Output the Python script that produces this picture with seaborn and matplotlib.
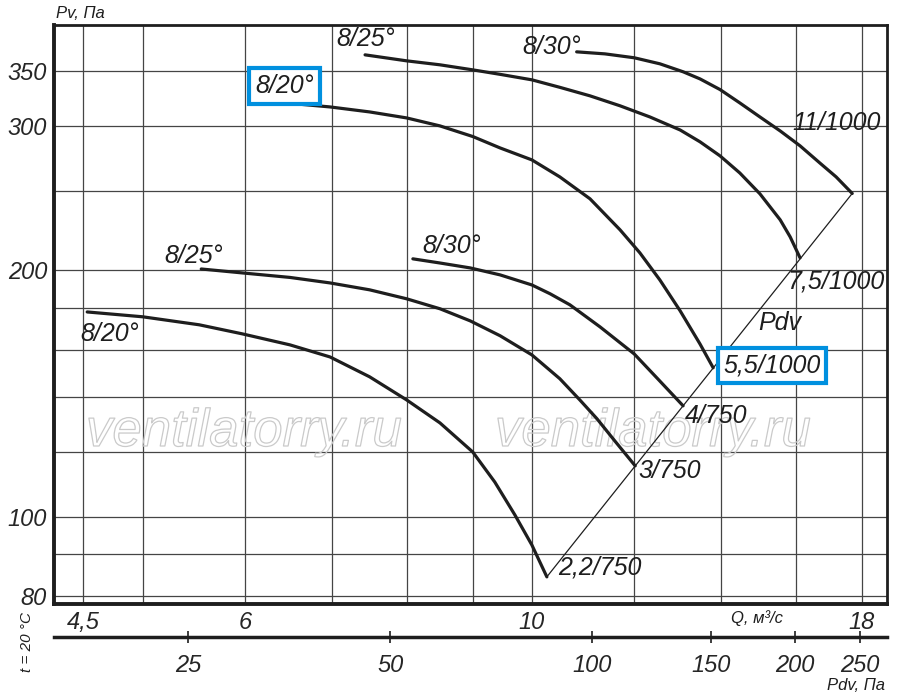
import matplotlib
matplotlib.use('Agg')
import matplotlib.pyplot as plt
import matplotlib.patheffects as pe
import seaborn as sns

# air flow Q (m3/s) and static pressure Pv (Pa)
q_lo_20 = [4.53, 5.0, 5.53, 5.97, 6.50, 6.98, 7.49, 8.0, 8.49, 9.0, 9.36, 9.70, 10.0, 10.27]
p_lo_20 = [177.8, 175.4, 171.5, 167.2, 162.1, 156.7, 148.2, 138.9, 130.2, 120.0, 110.3, 100.6, 92.4, 84.5]

q_lo_25 = [5.55, 5.97, 6.50, 6.98, 7.49, 8.0, 8.49, 8.96, 9.45, 10.0, 10.51, 10.89, 11.23, 11.59, 12.02]
p_lo_25 = [200.6, 198.4, 195.9, 192.9, 189.2, 184.5, 179.4, 173.4, 166.3, 157.6, 147.4, 138.9, 131.7, 123.8, 115.4]

q_lo_30 = [8.09, 8.49, 8.96, 9.45, 10.0, 10.33, 10.70, 11.29, 12.0, 12.51, 13.09]
p_lo_30 = [206.4, 204.0, 201.2, 197.3, 191.8, 187.1, 181.4, 170.5, 158.0, 147.4, 136.6]

q_hi_20 = [6.08, 6.50, 6.98, 7.49, 8.0, 8.49, 9.0, 9.45, 10.0, 10.51, 11.09, 11.70, 12.12, 12.56, 13.02, 13.49, 13.81]
p_hi_20 = [321.7, 319.4, 316.2, 311.8, 306.6, 299.8, 291.0, 281.8, 272.5, 259.8, 244.3, 223.9, 209.9, 194.5, 178.4, 162.5, 152.0]

q_hi_25 = [7.43, 8.0, 8.49, 9.0, 9.45, 10.0, 10.51, 11.09, 11.70, 12.34, 13.02, 13.49, 13.98, 14.48, 15.01, 15.56, 15.84, 16.12]
p_hi_25 = [366.0, 359.9, 355.9, 350.9, 346.5, 341.2, 334.1, 326.2, 317.2, 307.4, 296.4, 286.7, 275.6, 262.7, 247.7, 230.3, 219.5, 207.0]

q_hi_30 = [10.83, 11.39, 12.0, 12.56, 13.09, 13.49, 13.98, 14.48, 15.01, 15.56, 16.12, 16.71, 17.19, 17.69]
p_hi_30 = [369.1, 367.0, 363.0, 356.9, 349.0, 342.1, 332.0, 319.8, 307.4, 295.6, 283.5, 269.9, 259.8, 248.0]

angle_labels = ['8/20°', '8/25°', '8/30°', '8/20°', '8/25°', '8/30°']
motor_labels = ['2,2/750', '3/750', '4/750', '5,5/1000', '7,5/1000', '11/1000']

q_grid = [4.5, 5, 6, 7, 8, 9, 10, 12, 14, 16, 18]
q_tick_labels = ['4,5', '', '6', '', '', '', '10', '', '', '', '18']
p_grid = [80, 90, 100, 120, 140, 160, 180, 200, 250, 300, 350]
p_tick_labels = ['80', '', '100', '', '', '', '', '200', '', '300', '350']
pdv_ticks = [25, 50, 100, 150, 200, 250]

curves = [(q_lo_20, p_lo_20), (q_lo_25, p_lo_25), (q_lo_30, p_lo_30),
          (q_hi_20, p_hi_20), (q_hi_25, p_hi_25), (q_hi_30, p_hi_30)]

# label offsets in pixels from curve start / end
start_off = [(22, -22), (-8, 13), (39, 13), (32, 15), (1, 16), (-25, 5)]
end_off = [(11, 9), (3, -5), (2, -10), (10, 2), (-13, -24), (-60, 70)]
boxed_start = [False, False, False, True, False, False]
boxed_end = [False, False, False, True, False, False]

ink = '#1e1e1e'
blue = '#0090df'

sns.set_style('white')
plt.rcParams['font.family'] = ['Liberation Sans', 'DejaVu Sans']
plt.rcParams['font.style'] = 'italic'
plt.rcParams['text.color'] = ink

W, H = 900, 696
fig = plt.figure(figsize=(9, 6.96), dpi=100)
ax = fig.add_axes([54 / W, 1 - 604 / H, 833 / W, 579 / H])
ax.set_xscale('log')
ax.set_yscale('log')

for (q, p) in curves:
    sns.lineplot(x=q, y=p, ax=ax, color=ink, lw=2.3, sort=False,
                 estimator=None, zorder=3)

# Pdv line through the curve ends
sns.lineplot(x=[q_lo_20[-1], q_hi_30[-1]], y=[p_lo_20[-1], p_hi_30[-1]],
             ax=ax, color=ink, lw=0.9, sort=False, estimator=None, zorder=3)

for i, (q, p) in enumerate(curves):
    bb = None
    if boxed_start[i]:
        bb = dict(boxstyle='square,pad=0.24', fc='white', ec=blue, lw=3)
    ax.annotate(angle_labels[i], (q[0], p[0]), xytext=start_off[i],
                textcoords='offset pixels', ha='center', va='center',
                fontsize=18, bbox=bb, zorder=4)
    bb = None
    if boxed_end[i]:
        bb = dict(boxstyle='square,pad=0.22', fc='white', ec=blue, lw=3)
    ax.annotate(motor_labels[i], (q[-1], p[-1]), xytext=end_off[i],
                textcoords='offset pixels', ha='left', va='center',
                fontsize=18, bbox=bb, zorder=4)

ax.set_xlim(4.27, 18.82)
ax.set_ylim(78.3, 398)
ax.set_xticks(q_grid, labels=q_tick_labels)
ax.set_yticks(p_grid, labels=p_tick_labels)
ax.minorticks_off()
ax.tick_params(length=0, labelsize=17, pad=5)
ax.grid(True, color='#454545', lw=0.9)
ax.set_axisbelow(True)
for s in ['left', 'bottom']:
    ax.spines[s].set_linewidth(2.8)
for s in ['top', 'right']:
    ax.spines[s].set_linewidth(2.0)
for s in ax.spines.values():
    s.set_color(ink)

# watermark
for cx in [244, 653]:
    ax.text(cx / W, 1 - 432 / H, 'ventilatorry.ru', transform=fig.transFigure,
            ha='center', va='center', fontsize=38, color=(1, 1, 1, 0),
            zorder=1,
            path_effects=[pe.Stroke(linewidth=0.9, foreground='#cacaca'),
                          pe.Normal()])

# dynamic pressure scale
ax2 = fig.add_axes([54 / W, 1 - 637 / H, 833 / W, 0.0001])
ax2.set_xscale('log')
ax2.set_xlim(15.8, 274.5)
ax2.set_xticks(pdv_ticks, labels=[str(v) for v in pdv_ticks])
ax2.minorticks_off()
ax2.set_yticks([])
ax2.patch.set_visible(False)
for s in ['top', 'left', 'right']:
    ax2.spines[s].set_visible(False)
ax2.spines['bottom'].set_linewidth(2.5)
ax2.spines['bottom'].set_color(ink)
ax2.tick_params(axis='x', bottom=True, direction='inout', length=9, width=1.2,
                labelsize=17, pad=8, color=ink)

fig.text(80 / W, 1 - 13 / H, 'Pv, Па', fontsize=12, ha='center', va='center')
fig.text(856 / W, 1 - 686 / H, 'Pdv, Па', fontsize=12, ha='center', va='center')
fig.text(757 / W, 1 - 618 / H, 'Q, м³/с', fontsize=12, ha='center', va='center')
fig.text(27 / W, 1 - 642 / H, 't = 20 °C', fontsize=11, rotation=90,
         ha='center', va='center')
fig.text(780 / W, 1 - 323 / H, 'Pdv', fontsize=18, ha='center', va='center')

fig.savefig('out.png', dpi=100)
